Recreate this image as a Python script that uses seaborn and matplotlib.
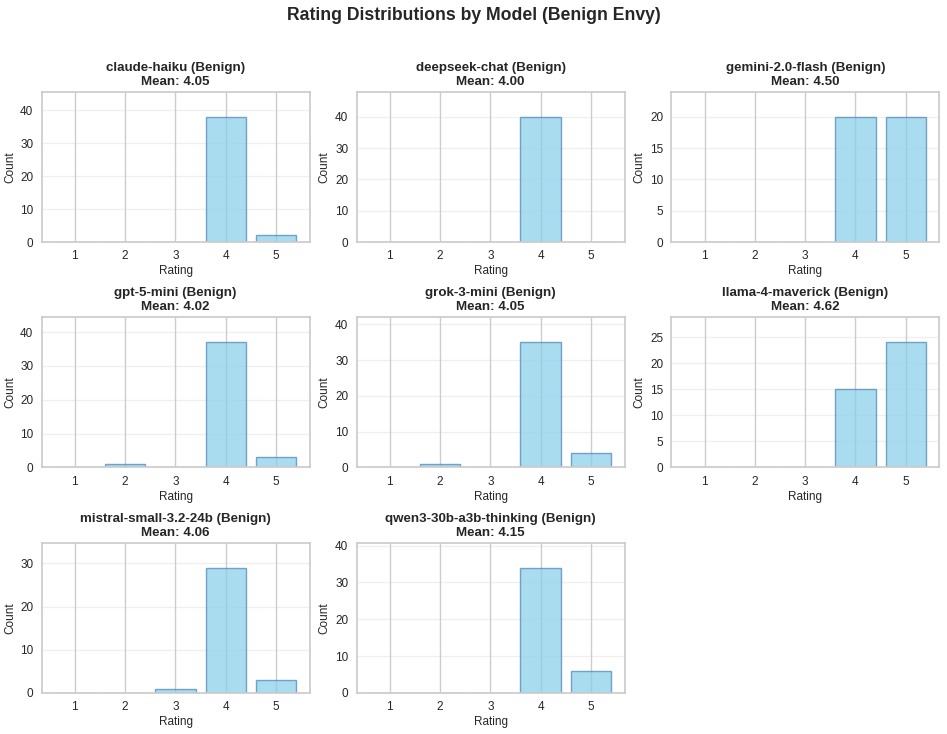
import numpy as np
import seaborn as sns
import matplotlib
matplotlib.use("Agg")
import matplotlib.pyplot as plt

ratings = [1, 2, 3, 4, 5]
models = [
    "claude-haiku", "deepseek-chat", "gemini-2.0-flash", "gpt-5-mini",
    "grok-3-mini", "llama-4-maverick", "mistral-small-3.2-24b",
    "qwen3-30b-a3b-thinking",
]
claude_haiku = [0, 0, 0, 38, 2]
deepseek_chat = [0, 0, 0, 40, 0]
gemini_flash = [0, 0, 0, 20, 20]
gpt5_mini = [0, 1, 0, 37, 3]
grok3_mini = [0, 1, 0, 35, 4]
llama4_maverick = [0, 0, 0, 15, 24]
mistral_small = [0, 0, 1, 29, 3]
qwen3_thinking = [0, 0, 0, 34, 6]

counts = [claude_haiku, deepseek_chat, gemini_flash, gpt5_mini,
          grok3_mini, llama4_maverick, mistral_small, qwen3_thinking]

sns.set_theme(style="whitegrid")
plt.rcParams['font.family'] = ['Arial', 'Liberation Sans', 'DejaVu Sans']

fig, axes = plt.subplots(3, 3, figsize=(9.47, 7.34), dpi=100)
fig.subplots_adjust(left=0.044, right=0.992, top=0.875, bottom=0.056,
                    wspace=0.175, hspace=0.5)
axes = axes.flatten()

for i, (name, c) in enumerate(zip(models, counts)):
    ax = axes[i]
    c = np.array(c)
    mean = (np.array(ratings) * c).sum() / c.sum()
    sns.barplot(x=ratings, y=c, native_scale=True, color='skyblue',
                saturation=1, edgecolor='steelblue', linewidth=1,
                alpha=0.7, ax=ax)
    ax.set_title(f"{name} (Benign)\nMean: {mean:.2f}", fontsize=9.6,
                 fontweight='bold', pad=5)
    ax.set_xlabel("Rating", fontsize=8.5, labelpad=2)
    ax.set_ylabel("Count", fontsize=8.5, labelpad=3)
    ax.set_xticks(ratings)
    ax.set_xlim(0.34, 5.67)
    ax.set_ylim(0, c.max() * 1.2)
    ax.tick_params(labelsize=8.5, pad=0)
    ax.grid(axis='y', alpha=0.3)

axes[-1].remove()

fig.suptitle("Rating Distributions by Model (Benign Envy)", fontsize=12.7,
             fontweight='bold', y=0.99)
fig.savefig("out.png", dpi=100)
